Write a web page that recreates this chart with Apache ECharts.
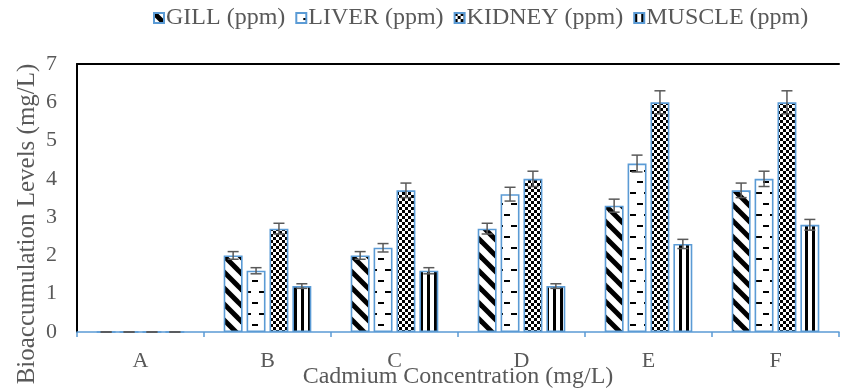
<!DOCTYPE html>
<html>
<head>
<meta charset="utf-8">
<script src="https://cdn.jsdelivr.net/npm/echarts@6/dist/echarts.min.js"></script>
<style>
html,body{margin:0;padding:0;background:#fff;}
#chart{width:841px;height:392px;}
</style>
</head>
<body>
<div id="chart"></div>
<script>
// ---- data ----
const categories = ['A', 'B', 'C', 'D', 'E', 'F'];
const seriesNames = ['GILL (ppm)', 'LIVER (ppm)', 'KIDNEY (ppm)', 'MUSCLE (ppm)'];
const gill   = [0, 2.0, 2.0, 2.7, 3.3, 3.7];
const liver  = [0, 1.6, 2.2, 3.6, 4.4, 4.0];
const kidney = [0, 2.7, 3.7, 4.0, 6.0, 6.0];
const muscle = [0, 1.2, 1.6, 1.2, 2.3, 2.8];
const gillErr   = [0, 0.10, 0.10, 0.14, 0.17, 0.19];
const liverErr  = [0, 0.08, 0.11, 0.18, 0.22, 0.20];
const kidneyErr = [0, 0.14, 0.19, 0.20, 0.30, 0.30];
const muscleErr = [0, 0.06, 0.08, 0.06, 0.12, 0.14];
const yTicks = [0, 1, 2, 3, 4, 5, 6, 7];

const values = [gill, liver, kidney, muscle];
const errors = [gillErr, liverErr, kidneyErr, muscleErr];

// ---- patterns ----
function tile(w, h, draw) {
  const c = document.createElement('canvas');
  c.width = w; c.height = h;
  const ctx = c.getContext('2d');
  ctx.fillStyle = '#fff';
  ctx.fillRect(0, 0, w, h);
  ctx.fillStyle = '#000';
  ctx.strokeStyle = '#000';
  draw(ctx);
  return c;
}
const gillPat = tile(16, 16, ctx => {
  ctx.lineWidth = 5;
  [-16, 0, 16].forEach(k => {
    ctx.beginPath(); ctx.moveTo(-2, k - 2); ctx.lineTo(18, k + 18); ctx.stroke();
  });
});
const liverPat = tile(14, 22, ctx => {
  ctx.fillRect(7, 5, 6, 2);
  ctx.fillRect(0, 16, 6, 2);
});
const kidneyPat = tile(6, 6, ctx => {
  ctx.fillRect(0, 0, 3, 3);
  ctx.fillRect(3, 3, 3, 3);
});
const musclePat = tile(7, 8, ctx => {
  ctx.fillRect(0, 0, 3, 8);
});
const patterns = [gillPat, liverPat, kidneyPat, musclePat];

const FONT = '"Liberation Serif", "Times New Roman", serif';
const TXT = '#595959';
const BLUE = '#5B9BD5';
const CAT_GAP = 0.31, BAR_GAP = 0.21, N = 4;

const barSeries = seriesNames.map((name, i) => ({
  name: name,
  type: 'bar',
  data: values[i],
  barCategoryGap: '31%',
  barGap: '21%',
  itemStyle: {
    color: { image: patterns[i], repeat: 'repeat' },
    borderColor: BLUE,
    borderWidth: 1.6
  },
  emphasis: { disabled: true },
  z: 2
}));

const errSeries = seriesNames.map((name, i) => ({
  type: 'custom',
  data: categories.map((c, k) => [k, values[i][k], errors[i][k]]),
  encode: { x: 0, y: 1 },
  z: 5,
  silent: true,
  renderItem: function (params, api) {
    const ci = api.value(0), v = api.value(1), e = api.value(2);
    const band = api.size([1, 0])[0];
    const totalW = band * (1 - CAT_GAP);
    const bw = totalW / (N + (N - 1) * BAR_GAP);
    const cx = api.coord([ci, 0])[0] - totalW / 2 + i * bw * (1 + BAR_GAP) + bw / 2;
    const yT = api.coord([ci, v + e])[1];
    const yB = api.coord([ci, v - e])[1];
    const half = 5.5;
    const st = { stroke: '#595959', lineWidth: 1.5 };
    return {
      type: 'group',
      children: [
        { type: 'line', shape: { x1: cx, y1: yT, x2: cx, y2: yB }, style: st },
        { type: 'line', shape: { x1: cx - half, y1: yT, x2: cx + half, y2: yT }, style: st },
        { type: 'line', shape: { x1: cx - half, y1: yB, x2: cx + half, y2: yB }, style: st }
      ]
    };
  }
}));

const chart = echarts.init(document.getElementById('chart'), null, { renderer: 'canvas' });
chart.setOption({
  backgroundColor: '#fff',
  animation: false,
  textStyle: { fontFamily: FONT },
  legend: {
    data: seriesNames,
    left: 148,
    top: 1,
    itemWidth: 10,
    itemHeight: 10,
    itemGap: 10,
    icon: 'rect',
    textStyle: { fontFamily: FONT, fontSize: 24, color: TXT, padding: [0, 0, 0, -3] }
  },
  grid: { left: 77, right: 2, top: 64, bottom: 60, containLabel: false, outerBoundsMode: 'none' },
  xAxis: [{
    type: 'category',
    data: categories,
    position: 'bottom',
    axisLine: { show: true, lineStyle: { color: BLUE, width: 1.5 } },
    axisTick: { show: true, length: 5, lineStyle: { color: BLUE, width: 1.5 } },
    axisLabel: { fontFamily: FONT, fontSize: 22, color: TXT, margin: 18 },
    name: 'Cadmium Concentration (mg/L)',
    nameLocation: 'middle',
    nameGap: 33,
    nameMoveOverlap: false,
    nameTextStyle: { fontFamily: FONT, fontSize: 24, color: TXT }
  }, {
    type: 'category',
    data: categories,
    position: 'top',
    axisLine: { show: true, onZero: false, lineStyle: { color: '#000', width: 2 } },
    axisTick: { show: false },
    axisLabel: { show: false }
  }],
  yAxis: {
    type: 'value',
    min: yTicks[0],
    max: yTicks[yTicks.length - 1],
    interval: 1,
    axisLine: { show: true, onZero: false, lineStyle: { color: '#000', width: 2 } },
    axisTick: { show: false },
    splitLine: { show: false },
    axisLabel: { fontFamily: FONT, fontSize: 22, color: TXT, margin: 20 },
    name: 'Bioaccumulation Levels (mg/L)',
    nameLocation: 'middle',
    nameGap: 37,
    nameMoveOverlap: false,
    nameTextStyle: { fontFamily: FONT, fontSize: 25, color: TXT, padding: [0, 52, 0, 0] }
  },
  series: barSeries.concat(errSeries)
});
</script>
</body>
</html>
